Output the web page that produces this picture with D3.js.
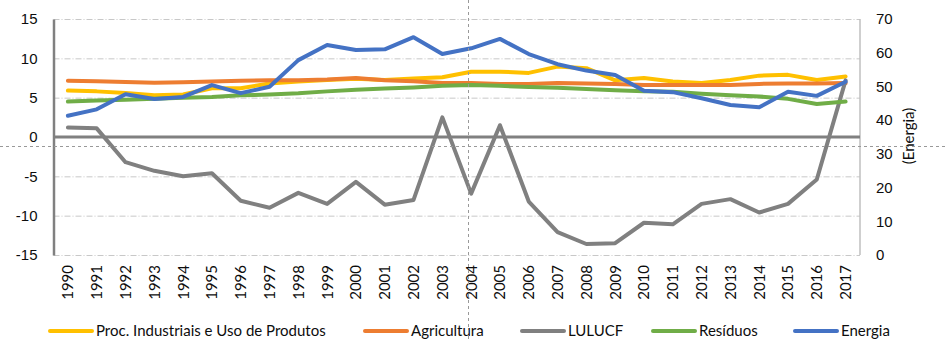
<!DOCTYPE html>
<html>
<head>
<meta charset="utf-8">
<script src="https://cdn.jsdelivr.net/npm/d3@7"></script>
<style>
  body { margin: 0; background: #fff; }
  svg { display: block; font-family: Lato, "Noto Sans", sans-serif; }
</style>
</head>
<body>
<script>
// Emissões por setor, 1990-2017 (Energia no eixo secundário)
var years = d3.range(1990, 2018).map(String);

var proc_industriais = [5.9, 5.8, 5.6, 5.3, 5.4, 6.2, 6.2, 6.8, 7.05, 7.25, 7.4, 7.25, 7.45, 7.6,
                        8.3, 8.3, 8.15, 8.95, 8.75, 7.2, 7.5, 7.05, 6.85, 7.25, 7.8, 7.9, 7.25, 7.7];
var agricultura      = [7.15, 7.1, 7.0, 6.9, 6.95, 7.05, 7.15, 7.2, 7.2, 7.3, 7.5, 7.2, 7.1, 6.85,
                        6.85, 6.75, 6.75, 6.85, 6.8, 6.75, 6.6, 6.6, 6.6, 6.6, 6.75, 6.8, 6.8, 6.85];
var lulucf           = [1.2, 1.1, -3.2, -4.3, -5.0, -4.6, -8.1, -9.0, -7.1, -8.5, -5.7, -8.6, -8.0, 2.5,
                        -7.2, 1.5, -8.2, -12.1, -13.6, -13.5, -10.9, -11.1, -8.5, -7.9, -9.6, -8.5, -5.4, 7.2];
var residuos         = [4.5, 4.65, 4.75, 4.85, 5.0, 5.1, 5.3, 5.4, 5.55, 5.8, 6.0, 6.15, 6.3, 6.5,
                        6.6, 6.5, 6.35, 6.25, 6.1, 5.95, 5.8, 5.75, 5.5, 5.3, 5.15, 4.85, 4.2, 4.5];
var energia          = [41.3, 43.2, 47.7, 46.3, 46.9, 50.4, 48.0, 49.9, 57.8, 62.3, 60.8, 61.0, 64.6, 59.6,
                        61.3, 64.1, 59.6, 56.6, 54.7, 53.4, 48.7, 48.3, 46.5, 44.5, 43.8, 48.4, 47.2, 51.4];

var left_ticks  = [-15, -10, -5, 0, 5, 10, 15];
var right_ticks = [0, 10, 20, 30, 40, 50, 60, 70];

var series = [
  { name: "Proc. Industriais e Uso de Produtos", values: proc_industriais, color: "#FFC000", axis: "left" },
  { name: "Agricultura", values: agricultura, color: "#ED7D31", axis: "left" },
  { name: "LULUCF", values: lulucf, color: "#808080", axis: "left" },
  { name: "Resíduos", values: residuos, color: "#70AD47", axis: "left" },
  { name: "Energia", values: energia, color: "#4472C4", axis: "right" }
];

var width = 948, height = 341;
var plot = { left: 53.5, right: 860, top: 19, bottom: 255 };
var text_color = "#0d0d0d";

var svg = d3.select("body").append("svg")
  .attr("width", width)
  .attr("height", height);

var x = d3.scaleBand().domain(years).range([plot.left, plot.right]);
var y_left  = d3.scaleLinear().domain([-15, 15]).range([plot.bottom, plot.top]);
var y_right = d3.scaleLinear().domain([0, 70]).range([plot.bottom, plot.top]);

function cx(d, i) { return x(years[i]) + x.bandwidth() / 2; }

// gridlines (dash-dot, light gray)
svg.append("g")
  .attr("transform", "translate(" + plot.left + ",0)")
  .call(d3.axisLeft(y_left).tickValues(left_ticks.filter(function (t) { return t != 0; }))
    .tickSize(-(plot.right - plot.left)).tickFormat(""))
  .call(function (g) {
    g.select(".domain").remove();
    g.selectAll("line").attr("stroke", "#c8c8c8").attr("stroke-width", 1)
      .attr("stroke-dasharray", "6,2,1,2");
  });

// right axis line
svg.append("line")
  .attr("x1", plot.right).attr("x2", plot.right)
  .attr("y1", plot.top).attr("y2", plot.bottom)
  .attr("stroke", "#bfbfbf").attr("stroke-width", 1.5);

// left axis (plain hyphen for negatives)
svg.append("g")
  .attr("transform", "translate(" + plot.left + ",0)")
  .call(d3.axisLeft(y_left).tickValues(left_ticks).tickSize(0).tickSizeOuter(0).tickPadding(16)
    .tickFormat(function (d) { return String(d); }))
  .call(function (g) {
    g.select(".domain").attr("stroke", "#808080").attr("stroke-width", 2.5);
    g.selectAll("text").attr("fill", text_color).style("font-size", "15px");
  });

// right axis labels
svg.append("g")
  .attr("transform", "translate(" + plot.right + ",0)")
  .call(d3.axisRight(y_right).tickValues(right_ticks).tickSize(0).tickPadding(16))
  .call(function (g) {
    g.select(".domain").remove();
    g.selectAll("text").attr("fill", text_color).style("font-size", "15px");
  });

svg.append("text")
  .attr("transform", "translate(914,136) rotate(-90)")
  .attr("text-anchor", "middle")
  .attr("fill", text_color)
  .style("font-size", "15px")
  .text("(Energia)");

// zero line
svg.append("line")
  .attr("x1", plot.left).attr("x2", plot.right)
  .attr("y1", y_left(0)).attr("y2", y_left(0))
  .attr("stroke", "#808080").attr("stroke-width", 3);

// year labels, rotated
svg.append("g")
  .selectAll("text")
  .data(years)
  .enter()
  .append("text")
  .attr("transform", function (d) {
    return "translate(" + (x(d) + x.bandwidth() / 2 + 5.5) + ",265) rotate(-90)";
  })
  .attr("text-anchor", "end")
  .attr("fill", text_color)
  .style("font-size", "15px")
  .text(function (d) { return d; });

// series lines
series.forEach(function (s) {
  var yy = s.axis == "left" ? y_left : y_right;
  var line = d3.line()
    .x(cx)
    .y(function (d) { return yy(d); });
  svg.append("path")
    .datum(s.values)
    .attr("fill", "none")
    .attr("stroke", s.color)
    .attr("stroke-width", 4)
    .attr("stroke-linejoin", "round")
    .attr("stroke-linecap", "round")
    .attr("d", line);
});

// legend
var legend_x = [50, 365, 522, 653, 795];
var legend = svg.append("g").selectAll("g")
  .data(series)
  .enter()
  .append("g")
  .attr("transform", function (d, i) { return "translate(" + legend_x[i] + ",331)"; });

legend.append("line")
  .attr("x1", 0).attr("x2", 42)
  .attr("stroke", function (d) { return d.color; })
  .attr("stroke-width", 4)
  .attr("stroke-linecap", "round");

legend.append("text")
  .attr("x", 46)
  .attr("dy", "0.35em")
  .attr("fill", text_color)
  .style("font-size", "15px")
  .text(function (d) { return d.name; });

// dashed crosshair
svg.append("line")
  .attr("x1", 0).attr("x2", width)
  .attr("y1", 146.5).attr("y2", 146.5)
  .attr("stroke", "#999").attr("stroke-width", 1).attr("stroke-dasharray", "3,3");
svg.append("line")
  .attr("x1", 468.5).attr("x2", 468.5)
  .attr("y1", 0).attr("y2", height)
  .attr("stroke", "#999").attr("stroke-width", 1).attr("stroke-dasharray", "3,3");
</script>
</body>
</html>
